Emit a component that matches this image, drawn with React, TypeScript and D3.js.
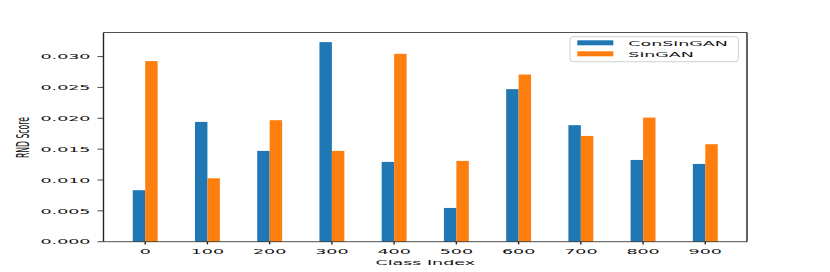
import React, { useEffect, useRef } from 'react';
import * as d3 from 'd3';

const classes = [0, 100, 200, 300, 400, 500, 600, 700, 800, 900];
const conSinGAN = [0.00834, 0.01941, 0.01471, 0.03234, 0.01293, 0.00547, 0.02472, 0.01888, 0.01325, 0.0126];
const sinGAN = [0.02926, 0.01028, 0.01969, 0.01471, 0.03044, 0.01309, 0.02709, 0.01714, 0.02011, 0.0158];
const yTicks = [0, 0.005, 0.01, 0.015, 0.02, 0.025, 0.03];
const seriesNames = ['ConSinGAN', 'SinGAN'];
const colors = ['#1f77b4', '#ff7f0e'];

const W = 830;
const H = 272;
// the picture is stretched wide and squashed in height
const SX = 1.75;
const SY = 0.77;
const FONT = 'DejaVu Sans, sans-serif';

const App: React.FC = () => {
  const ref = useRef<SVGSVGElement | null>(null);

  useEffect(() => {
    const svg = d3.select(ref.current);
    svg.selectAll('*').remove();

    const left = 103.5;
    const right = 747;
    const top = 32.5;
    const bottom = 241.7;

    const x = d3.scaleLinear().domain([-67, 967]).range([left, right]);
    const y = d3.scaleLinear().domain([0, 0.0339]).range([bottom, top]);
    const barW = 20;

    // bars
    const g = svg.append('g');
    [conSinGAN, sinGAN].forEach((vals, si) => {
      g.selectAll(`rect.s${si}`)
        .data(vals)
        .enter()
        .append('rect')
        .attr('class', `s${si}`)
        .attr('x', (_, i) => x(classes[i] + (si === 0 ? -barW : 0)))
        .attr('width', x(barW) - x(0))
        .attr('y', (d) => y(d))
        .attr('height', (d) => y(0) - y(d))
        .attr('fill', colors[si]);
    });

    // frame
    const frame = svg.append('g').attr('stroke', '#222').attr('fill', 'none');
    frame.append('line').attr('x1', left).attr('x2', right).attr('y1', top).attr('y2', top).attr('stroke-width', 0.8);
    frame.append('line').attr('x1', left).attr('x2', right).attr('y1', bottom).attr('y2', bottom).attr('stroke-width', 0.8);
    frame.append('line').attr('x1', left).attr('x2', left).attr('y1', top).attr('y2', bottom).attr('stroke-width', 1.4);
    frame.append('line').attr('x1', right).attr('x2', right).attr('y1', top).attr('y2', bottom).attr('stroke-width', 1.4);

    // y ticks
    yTicks.forEach((t) => {
      svg.append('line')
        .attr('x1', left - 6).attr('x2', left)
        .attr('y1', y(t)).attr('y2', y(t))
        .attr('stroke', '#222').attr('stroke-width', 0.8);
      svg.append('g')
        .attr('transform', `translate(${left - 13},${y(t)}) scale(${SX},${SY})`)
        .append('text')
        .attr('text-anchor', 'end')
        .attr('dy', '0.36em')
        .attr('font-family', FONT)
        .attr('font-size', 10)
        .attr('fill', '#111')
        .text(d3.format('.3f')(t));
    });

    // x ticks
    classes.forEach((c) => {
      svg.append('line')
        .attr('x1', x(c)).attr('x2', x(c))
        .attr('y1', bottom).attr('y2', bottom + 2.7)
        .attr('stroke', '#222').attr('stroke-width', 1.4);
      svg.append('g')
        .attr('transform', `translate(${x(c)},${254}) scale(${SX},${SY})`)
        .append('text')
        .attr('text-anchor', 'middle')
        .attr('font-family', FONT)
        .attr('font-size', 10)
        .attr('fill', '#111')
        .text(String(c));
    });

    // axis labels
    svg.append('g')
      .attr('transform', `translate(${(left + right) / 2},${265.2}) scale(${SX},${SY})`)
      .append('text')
      .attr('text-anchor', 'middle')
      .attr('font-family', FONT)
      .attr('font-size', 10)
      .attr('fill', '#111')
      .text('Class Index');

    svg.append('g')
      .attr('transform', `translate(${29},${137.5}) scale(${SX},${SY}) rotate(-90)`)
      .append('text')
      .attr('text-anchor', 'middle')
      .attr('font-family', FONT)
      .attr('font-size', 10)
      .attr('fill', '#111')
      .text('RND Score');

    // legend
    const lg = svg.append('g');
    lg.append('rect')
      .attr('x', 570).attr('y', 36.7)
      .attr('width', 168.3).attr('height', 25)
      .attr('rx', 3)
      .attr('fill', 'white').attr('fill-opacity', 0.8)
      .attr('stroke', '#d0d0d0').attr('stroke-width', 1);
    seriesNames.forEach((name, i) => {
      const base = 45.5 + i * 11;
      lg.append('rect')
        .attr('x', 577.3).attr('y', base - 5.2)
        .attr('width', 36).attr('height', 5)
        .attr('fill', colors[i]);
      lg.append('g')
        .attr('transform', `translate(${628.3},${base}) scale(${SX},${SY})`)
        .append('text')
        .attr('font-family', FONT)
        .attr('font-size', 10)
        .attr('fill', '#111')
        .text(name);
    });
  }, []);

  return (
    <svg
      ref={ref}
      width={W}
      height={H}
      style={{ position: 'absolute', left: 0, top: 0, background: 'white' }}
    />
  );
};

export default App;
